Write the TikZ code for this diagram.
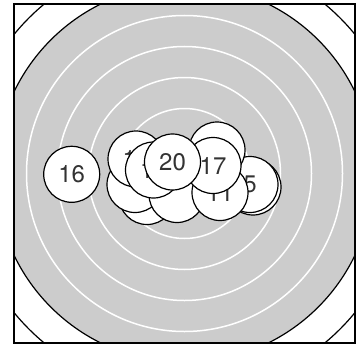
\documentclass[tikz,border=0pt]{standalone}
\usepackage{fontspec}
\setmainfont{TeX Gyre Heros}

\begin{document}
\begin{tikzpicture}[x=1pt, y=-1pt,
  shot/.style={circle, draw, line width=1.2pt, fill=white, minimum size=56pt,
    inner sep=0pt, font=\fontsize{24}{24}\selectfont, text=black!80},
  ring/.style={draw=white, line width=1.5pt},
  edge/.style={draw, line width=1.2pt}]
\useasboundingbox (0,0) rectangle (358,345);
\coordinate (c) at (184.5,173.5);
\begin{scope}
  \clip (14,4) rectangle (355,343);
  \draw[edge] (c) circle[radius=220];
  \fill[black!20] (c) circle[radius=189];
  \foreach \r in {34,65,96,127,158}
    \draw[ring] (c) circle[radius=\r];
  \draw[edge] (c) circle[radius=189];
\end{scope}
\draw[edge] (14,4) rectangle (355,343);
% shots, later ones on top
\foreach \n/\x/\y/\t in {2/253/187/{}, 3/182/172/{}, 4/147/196.5/{},
    5/250/184.5/5, 6/135/184.5/{}, 7/187/178/{}, 9/217/150/{},
    10/177/194.5/{}, 11/220/192.5/11, 13/136/159/13, 16/71.7/174.3/16,
    17/213/165.5/17, 19/153.5/170/19, 20/172.5/162/20}
  \node[shot] (s\n) at (\x,\y) {\t};
\end{tikzpicture}
\end{document}
